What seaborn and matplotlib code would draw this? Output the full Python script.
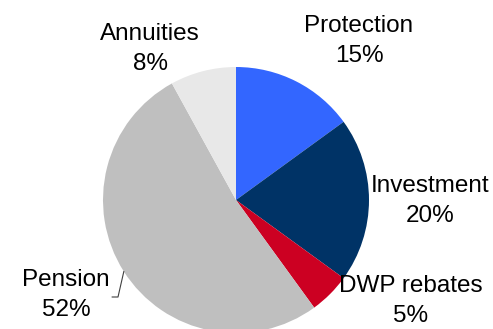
import numpy as np
import matplotlib
matplotlib.use("Agg")
import matplotlib.pyplot as plt
import seaborn as sns

# Business mix by product line (share of total, %)
categories = ["Protection", "Investment", "DWP rebates", "Pension", "Annuities"]
shares = [15, 20, 5, 52, 8]
colors = ["#3366FF", "#003366", "#CC0022", "#BFBFBF", "#E8E8E8"]

sns.set_style("white")
plt.rcParams["font.family"] = ["Liberation Sans", "DejaVu Sans"]

W, H = 493, 329
fig = plt.figure(figsize=(W / 100, H / 100), dpi=100)
ax = fig.add_axes([0, 0, 1, 1])

# pie geometry in pixels (centre and radius), converted to data units
cx, cy, R = 236.0, 200.0, 133.0


def px(x, y):
    return (x - cx) / R, (cy - y) / R


ax.pie(shares, colors=colors, startangle=90, counterclock=False,
       radius=1.0, center=(0, 0), wedgeprops=dict(linewidth=0))

ax.set_aspect("auto")
ax.set_xlim(-cx / R, (W - cx) / R)
ax.set_ylim(-(H - cy) / R, cy / R)
ax.axis("off")

# label block centres in pixel coordinates
label_pos = {
    "Protection": (359, 41),
    "Investment": (430, 201),
    "DWP rebates": (411, 301),
    "Pension": (66, 295),
    "Annuities": (150, 49),
}
for name, val in zip(categories, shares):
    x, y = px(*label_pos[name])
    ax.text(x, y, f"{name}\n{val}%", ha="center", va="center",
            fontsize=17.5, color="black", linespacing=1.5)

# leader line for the Pension label
ang = np.deg2rad(212.5)
p0 = (np.cos(ang), np.sin(ang))
p1 = px(118, 297)
p2 = px(112, 297)
ax.plot([p0[0], p1[0], p2[0]], [p0[1], p1[1], p2[1]],
        color="#404040", linewidth=0.8)

fig.savefig("out.png", dpi=100)
